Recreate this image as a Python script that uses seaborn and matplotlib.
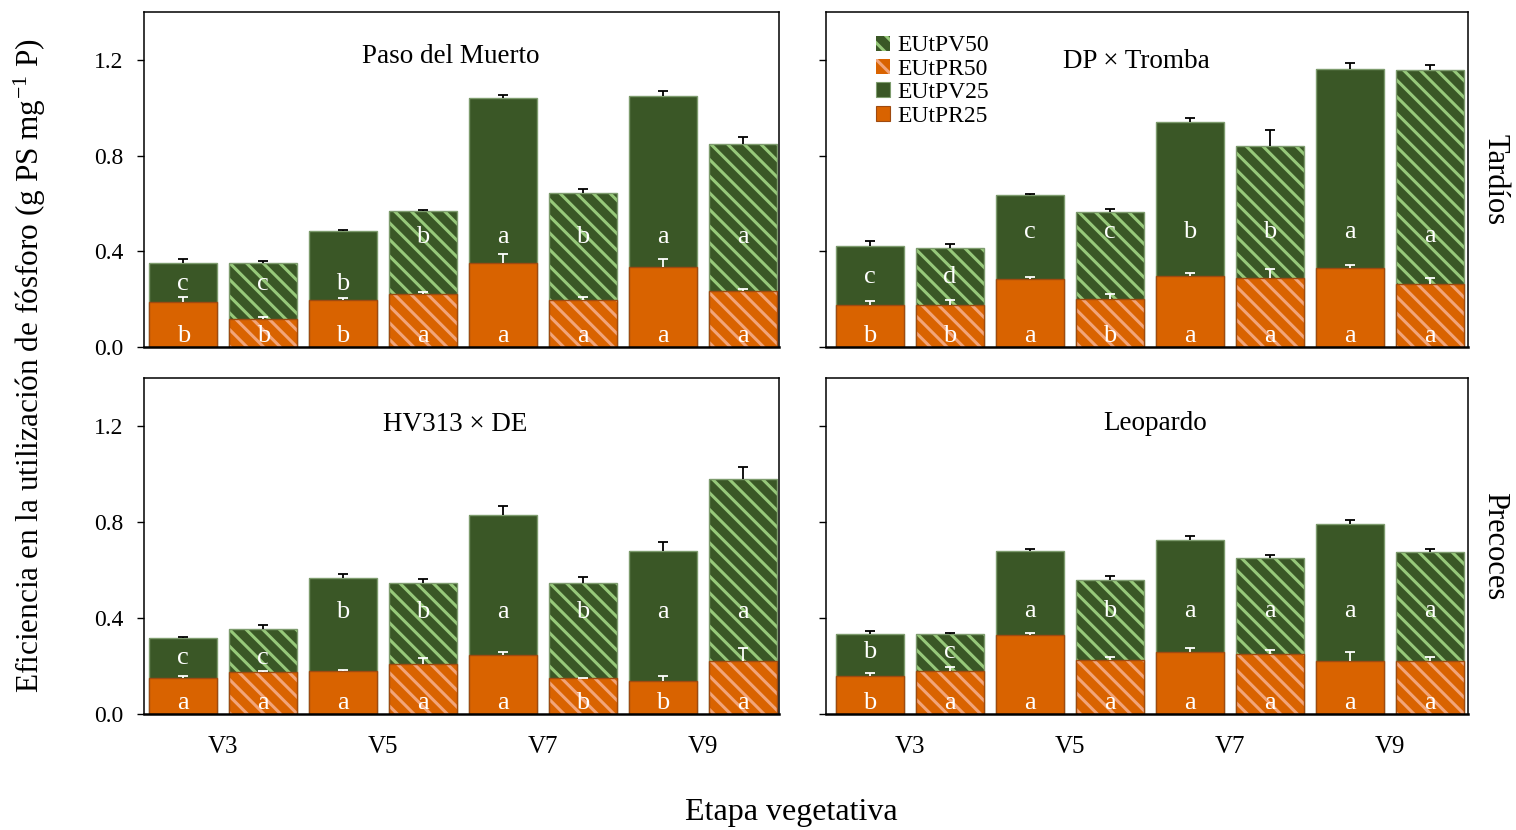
import numpy as np
import pandas as pd
import matplotlib
matplotlib.use("Agg")
import matplotlib.pyplot as plt
from matplotlib.patches import Patch, Rectangle
import seaborn as sns

# ---------------- data ----------------
etapas = ["V3", "V5", "V7", "V9"]
dosis = ["25", "50"]
barras = [f"{e}-{d}" for e in etapas for d in dosis]

paneles = ["Paso del Muerto", "DP × Tromba", "HV313 × DE", "Leopardo"]
grupos = ["Tardíos", "Precoces"]
serie_nombres = ["EUtPV50", "EUtPR50", "EUtPV25", "EUtPR25"]

# total stacked height (PR + PV) and PR part
pm_total = [0.352, 0.351, 0.486, 0.570, 1.042, 0.642, 1.049, 0.849]
pm_pr = [0.189, 0.116, 0.196, 0.222, 0.352, 0.196, 0.334, 0.233]
pm_total_err = [0.017, 0.007, 0.004, 0.004, 0.011, 0.018, 0.022, 0.029]
pm_pr_err = [0.018, 0.011, 0.007, 0.006, 0.038, 0.014, 0.034, 0.011]
pm_let_pv = ["c", "c", "b", "b", "a", "b", "a", "a"]
pm_let_pr = ["b", "b", "b", "a", "a", "a", "a", "a"]

dp_total = [0.424, 0.413, 0.637, 0.563, 0.941, 0.842, 1.162, 1.157]
dp_pr = [0.177, 0.175, 0.286, 0.201, 0.298, 0.287, 0.329, 0.263]
dp_total_err = [0.017, 0.017, 0.004, 0.013, 0.015, 0.065, 0.024, 0.022]
dp_pr_err = [0.015, 0.020, 0.007, 0.022, 0.010, 0.037, 0.014, 0.024]
dp_let_pv = ["c", "d", "c", "c", "b", "b", "a", "a"]
dp_let_pr = ["b", "b", "a", "b", "a", "a", "a", "a"]

hv_total = [0.316, 0.354, 0.566, 0.546, 0.831, 0.546, 0.680, 0.981]
hv_pr = [0.148, 0.173, 0.180, 0.210, 0.244, 0.148, 0.137, 0.222]
hv_total_err = [0.006, 0.015, 0.017, 0.017, 0.036, 0.023, 0.035, 0.050]
hv_pr_err = [0.011, 0.008, 0.004, 0.023, 0.014, 0.004, 0.020, 0.053]
hv_let_pv = ["c", "c", "b", "b", "a", "b", "a", "a"]
hv_let_pr = ["a", "a", "a", "a", "a", "b", "b", "a"]

le_total = [0.334, 0.333, 0.680, 0.557, 0.723, 0.649, 0.790, 0.673]
le_pr = [0.160, 0.180, 0.330, 0.227, 0.258, 0.252, 0.220, 0.220]
le_total_err = [0.013, 0.006, 0.006, 0.020, 0.018, 0.013, 0.017, 0.014]
le_pr_err = [0.010, 0.017, 0.009, 0.011, 0.015, 0.014, 0.040, 0.018]
le_let_pv = ["b", "c", "a", "b", "a", "a", "a", "a"]
le_let_pr = ["b", "a", "a", "a", "a", "a", "a", "a"]

# ---------------- layout (letter heights, positions) ----------------
pm_lab_y = [0.238, 0.238, 0.238, 0.435, 0.435, 0.435, 0.435, 0.435]
dp_lab_y = [0.269, 0.269, 0.455, 0.455, 0.455, 0.455, 0.455, 0.44]
hv_lab_y = [0.209, 0.209, 0.40, 0.40, 0.40, 0.40, 0.40, 0.40]
le_lab_y = [0.233, 0.233, 0.404, 0.404, 0.404, 0.404, 0.404, 0.404]

sns.set_style("ticks")
plt.rcParams["font.family"] = ["Liberation Serif", "DejaVu Serif"]
plt.rcParams["mathtext.fontset"] = "stix"
plt.rcParams["hatch.linewidth"] = 2.2
for k in ["text.color", "axes.labelcolor", "xtick.color", "ytick.color", "axes.edgecolor"]:
    plt.rcParams[k] = "black"

GREEN = "#3A5726"
ORANGE = "#D96300"
GREEN_H = "#97C97A"
ORANGE_H = "#F2A57A"
GREEN_EDGE = "#7E9C6E"
ORANGE_EDGE = "#9E4A10"

W, H = 1516, 830
fig = plt.figure(figsize=(W / 100, H / 100), dpi=100)


def pos(l, r, t, b):
    return [l / W, 1 - b / H, (r - l) / W, (b - t) / H]


specs = [
    (paneles[0], pm_total, pm_pr, pm_total_err, pm_pr_err, pm_let_pv, pm_let_pr, pm_lab_y,
     pos(144, 779, 12, 347), (-0.49, 7.45), (0.483, 0.866), True, False),
    (paneles[1], dp_total, dp_pr, dp_total_err, dp_pr_err, dp_let_pv, dp_let_pr, dp_lab_y,
     pos(826, 1468, 12, 347), (-0.55, 7.48), (0.484, 0.851), False, False),
    (paneles[2], hv_total, hv_pr, hv_total_err, hv_pr_err, hv_let_pv, hv_let_pr, hv_lab_y,
     pos(144, 779, 378, 714), (-0.49, 7.45), (0.49, 0.863), True, True),
    (paneles[3], le_total, le_pr, le_total_err, le_pr_err, le_let_pv, le_let_pr, le_lab_y,
     pos(826, 1468, 378, 714), (-0.55, 7.48), (0.512, 0.866), False, True),
]


def upper_errorbar(ax, xs, ys, errs, color):
    _, caps, _ = ax.errorbar(xs, ys, yerr=[np.zeros(len(ys)), errs], fmt="none",
                             ecolor=color, elinewidth=1.3, capsize=3.4, capthick=1.3,
                             zorder=3)
    # hide the lower caps (only upper "T" shown)
    if len(caps) >= 2:
        caps[0].set_visible(False)


axes = []
for (titulo, total, pr, terr, prerr, lpv, lpr, laby, rect, xl, tpos, ylabels, xlabels) in specs:
    ax = fig.add_axes(rect)
    axes.append(ax)
    df = pd.DataFrame({"barra": barras, "total": total, "pr": pr})
    sns.barplot(data=df, x="barra", y="total", order=barras, color=GREEN, saturation=1,
                width=0.85, errorbar=None, linewidth=0, ax=ax)
    n_green = len(ax.patches)
    sns.barplot(data=df, x="barra", y="pr", order=barras, color=ORANGE, saturation=1,
                width=0.85, errorbar=None, linewidth=0, ax=ax)
    patches = list(ax.patches)
    green_p = patches[:n_green]
    orange_p = patches[n_green:]
    for i, p in enumerate(green_p):
        p.set_zorder(2)
        p.set_linewidth(0)
        if i % 2 == 1:
            p.set_hatch("\\\\")
            p.set_edgecolor(GREEN_H)
        ax.add_patch(Rectangle(p.get_xy(), p.get_width(), p.get_height(), fill=False,
                               edgecolor=GREEN_EDGE, linewidth=1.0, zorder=2.1))
    for i, p in enumerate(orange_p):
        p.set_zorder(2.2)
        p.set_linewidth(0)
        if i % 2 == 1:
            p.set_hatch("\\\\")
            p.set_edgecolor(ORANGE_H)
        ax.add_patch(Rectangle(p.get_xy(), p.get_width(), p.get_height(), fill=False,
                               edgecolor=ORANGE_EDGE, linewidth=1.0, zorder=2.3))
    xs = np.array([p.get_x() + p.get_width() / 2 for p in green_p])
    upper_errorbar(ax, xs, total, terr, "black")
    upper_errorbar(ax, xs, pr, prerr, "white")
    base_pr = 0.02
    for x, lv, lr, ly in zip(xs, lpv, lpr, laby):
        ax.text(x, ly, lv, color="white", ha="center", va="baseline", fontsize=19, zorder=4)
        ax.text(x, base_pr, lr, color="white", ha="center", va="baseline", fontsize=19, zorder=4)
    ax.text(tpos[0], tpos[1], titulo, transform=ax.transAxes, ha="center", va="center",
            fontsize=19.5)
    ax.set_ylim(0, 1.4)
    ax.set_xlim(*xl)
    ax.set_yticks([0.0, 0.4, 0.8, 1.2])
    ax.set_xticks([0.5, 2.5, 4.5, 6.5])
    ax.set_xlabel("")
    ax.set_ylabel("")
    if ylabels:
        ax.set_yticklabels(["0.0", "0.4", "0.8", "1.2"])
    else:
        ax.set_yticklabels([])
    if xlabels:
        ax.set_xticklabels(etapas)
    else:
        ax.set_xticklabels([])
    ax.tick_params(axis="y", direction="out", length=5, width=1.0, labelsize=17, pad=10,
                   color="black", labelcolor="black")
    ax.tick_params(axis="x", length=0, labelsize=18, pad=16, labelcolor="black")
    for s in ax.spines.values():
        s.set_visible(True)
        s.set_color("black")
        s.set_linewidth(1.1)
    ax.spines["bottom"].set_linewidth(1.8)

# legend in top-right panel
handles = [
    Patch(facecolor=GREEN, edgecolor=GREEN_H, hatch="\\\\", linewidth=0),
    Patch(facecolor=ORANGE, edgecolor=ORANGE_H, hatch="\\\\", linewidth=0),
    Patch(facecolor=GREEN, edgecolor=GREEN_EDGE, linewidth=0.8),
    Patch(facecolor=ORANGE, edgecolor=ORANGE_EDGE, linewidth=0.8),
]
axes[1].legend(handles, serie_nombres, loc="upper left", bbox_to_anchor=(0.078, 0.93),
               frameon=False, fontsize=17, handlelength=0.6, handleheight=0.6,
               handletextpad=0.3, labelspacing=0.1, borderpad=0, borderaxespad=0)

fig.text(30 / W, 1 - 365 / H, r"Eficiencia en la utilización de fósforo (g PS mg$^{\mathregular{-1}}$ P)",
         rotation=90, ha="center", va="center", fontsize=22.5)
fig.text(791 / W, 1 - 812 / H, "Etapa vegetativa", ha="center", va="center", fontsize=23)
fig.text(1495 / W, 1 - 180 / H, grupos[0], rotation=270, ha="center", va="center", fontsize=22)
fig.text(1495 / W, 1 - 546 / H, grupos[1], rotation=270, ha="center", va="center", fontsize=22)

fig.savefig("out.png", dpi=100)
